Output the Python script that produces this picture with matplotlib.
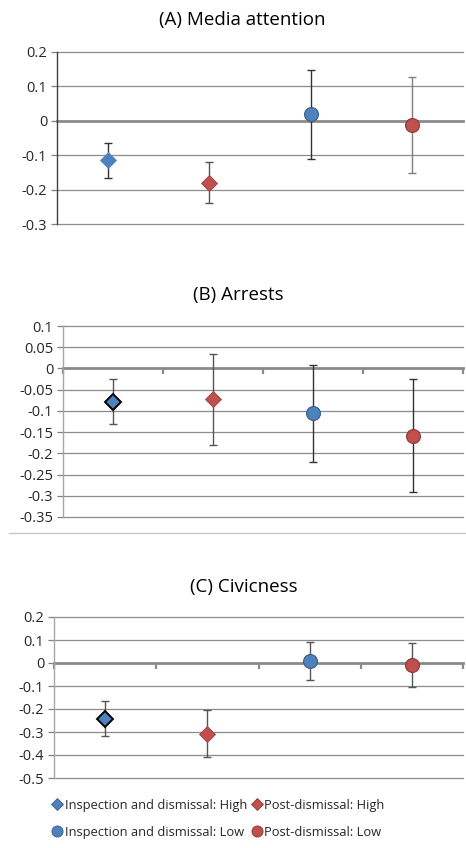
import matplotlib
matplotlib.use('Agg')
import matplotlib.pyplot as plt
from matplotlib.lines import Line2D

plt.rcParams['font.family'] = ['Open Sans', 'DejaVu Sans']

# series order: Inspection High, Post High, Inspection Low, Post Low
labels = ['Inspection and dismissal: High', 'Post-dismissal: High',
          'Inspection and dismissal: Low', 'Post-dismissal: Low']

# (A) Media attention
media_est = [-0.115, -0.180, 0.020, -0.012]
media_lo = [-0.165, -0.240, -0.110, -0.152]
media_hi = [-0.065, -0.120, 0.148, 0.127]

# (B) Arrests
arrest_est = [-0.078, -0.073, -0.106, -0.160]
arrest_lo = [-0.130, -0.180, -0.220, -0.290]
arrest_hi = [-0.025, 0.035, 0.008, -0.025]

# (C) Civicness
civic_est = [-0.242, -0.308, 0.008, -0.008]
civic_lo = [-0.318, -0.410, -0.075, -0.103]
civic_hi = [-0.167, -0.203, 0.092, 0.087]

BLUE = '#4f81bd'
RED = '#c0504d'
face = [BLUE, RED, BLUE, RED]
shape = ['D', 'D', 'o', 'o']
GRID = '#8c8c8c'

W, H = 466, 848
fig = plt.figure(figsize=(W / 100, H / 100), dpi=100)


def box(l, t, r, b):
    return [l / W, 1 - b / H, (r - l) / W, (b - t) / H]


def panel(rect, title, title_xy, est, lo, hi, yticks, ylabels, dark_axis,
          edges, ebar_cols, xticks):
    ax = fig.add_axes(rect)
    ax.set_xlim(0, 4)
    ax.set_ylim(yticks[0], yticks[-1])
    for s in ['top', 'right']:
        ax.spines[s].set_visible(False)
    ax.spines['left'].set_color('#404040' if dark_axis else '#a6a6a6')
    ax.spines['left'].set_linewidth(1.0)
    ax.spines['bottom'].set_position(('data', 0))
    ax.spines['bottom'].set_color('#8a8a8a')
    ax.spines['bottom'].set_linewidth(2.0)
    ax.spines['bottom'].set_zorder(2)
    for v in yticks:
        if v != 0:
            ax.axhline(v, color=GRID, lw=0.9, clip_on=False, zorder=1)
    ax.set_yticks(yticks)
    ax.set_yticklabels(ylabels)
    ax.tick_params(axis='y', direction='out', length=4, width=0.9,
                   color='#808080', labelsize=10.5, labelcolor='#262626', pad=3)
    ax.set_xticks(range(5))
    ax.set_xticklabels([])
    ax.tick_params(axis='x', direction='out', length=4 if xticks else 0,
                   width=1.6, color='#8a8a8a')
    for i in range(4):
        x = i + 0.5
        ax.errorbar(x, est[i], yerr=[[est[i] - lo[i]], [hi[i] - est[i]]],
                    fmt='none', ecolor=ebar_cols[i], elinewidth=1.0,
                    capsize=3, capthick=1.0, zorder=3)
        ms = 8 if shape[i] == 'D' else 10
        ax.plot(x, est[i], marker=shape[i], ms=ms, color=face[i],
                mec=edges[i][0], mew=edges[i][1], zorder=4, linestyle='none')
    fig.text(title_xy[0] / W, 1 - title_xy[1] / H, title, ha='center',
             va='center', fontsize=13.5, color='#000000')
    return ax


panel(box(57, 52, 463, 224), '(A) Media attention', (242, 20),
      media_est, media_lo, media_hi,
      [-0.3, -0.2, -0.1, 0, 0.1, 0.2], ['-0.3', '-0.2', '-0.1', '0', '0.1', '0.2'],
      True,
      [('#5a86bf', 0.6), ('#9c3f3c', 0.6), ('#385d8a', 0.8), ('#8c3836', 0.8)],
      ['#333333', '#555555', '#333333', '#7f7f7f'], False)

panel(box(63, 326, 463, 517), '(B) Arrests', (238, 295),
      arrest_est, arrest_lo, arrest_hi,
      [-0.35, -0.3, -0.25, -0.2, -0.15, -0.1, -0.05, 0, 0.05, 0.1],
      ['-0.35', '-0.3', '-0.25', '-0.2', '-0.15', '-0.1', '-0.05', '0', '0.05', '0.1'],
      False,
      [('#000000', 1.4), ('#9c3f3c', 0.6), ('#385d8a', 0.8), ('#8c3836', 0.8)],
      ['#555555', '#555555', '#333333', '#333333'], True)

panel(box(54, 617, 463, 778), '(C) Civicness', (244, 587),
      civic_est, civic_lo, civic_hi,
      [-0.5, -0.4, -0.3, -0.2, -0.1, 0, 0.1, 0.2],
      ['-0.5', '-0.4', '-0.3', '-0.2', '-0.1', '0', '0.1', '0.2'],
      False,
      [('#000000', 1.4), ('#9c3f3c', 0.6), ('#385d8a', 0.8), ('#8c3836', 0.8)],
      ['#555555', '#555555', '#555555', '#555555'], True)

# separator line under panel B
fig.add_artist(Line2D([9 / W, 1], [1 - 533 / H, 1 - 533 / H], color='#c8c8c8',
                      lw=1.0))

handles = [Line2D([], [], marker=shape[i], color=face[i], linestyle='none',
                  ms=6 if shape[i] == 'D' else 8,
                  mec='#385d8a' if face[i] == BLUE else '#8c3836', mew=0.6)
           for i in range(4)]
order = [0, 2, 1, 3]
fig.legend([handles[i] for i in order], [labels[i] for i in order],
           ncol=2, loc='upper left', bbox_to_anchor=(53 / W, 1 - 799 / H),
           frameon=False, fontsize=9.3, handlelength=0.6, handletextpad=0.3,
           columnspacing=0.45, labelspacing=1.05, borderpad=0, borderaxespad=0,
           labelcolor='#262626')

fig.savefig('out.png', dpi=100)
